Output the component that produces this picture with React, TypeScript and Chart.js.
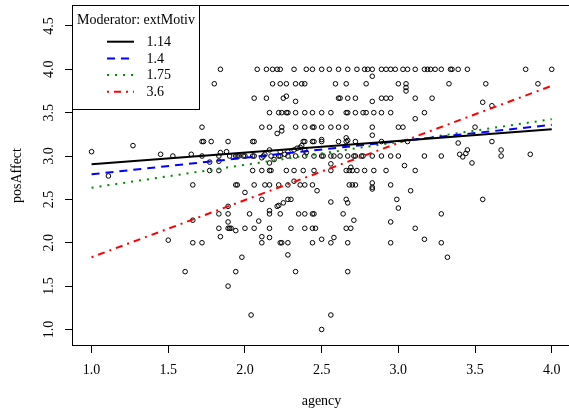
import React, { useEffect, useRef } from "react";
import { Chart, registerables } from "chart.js";

Chart.register(...registerables);

const FONT = '"Liberation Serif", "Times New Roman", serif';

// ---------- axis ticks ----------
const agencyTicks = [1.0, 1.5, 2.0, 2.5, 3.0, 3.5, 4.0];
const posAffectTicks = [1.0, 1.5, 2.0, 2.5, 3.0, 3.5, 4.0, 4.5];

// ---------- moderator lines (simple slopes) ----------
const moderatorLabels = ["1.14", "1.4", "1.75", "3.6"];
const moderatorColors = ["#000000", "#0000ff", "#008b00", "#ff0000"];
const moderatorDashes = [[], [8, 6], [2, 6], [2, 5, 7, 5]];
const fitAgency = [1.0, 4.0];
const fitStart = [2.905, 2.79, 2.635, 1.833];
const fitEnd = [3.309, 3.36, 3.425, 3.81];

// ---------- scatter: agency values for each posAffect level ----------
const row4_00 = [1.84, 2.08, 2.14, 2.18, 2.21, 2.23, 2.32, 2.40, 2.44, 2.50, 2.55, 2.61, 2.67, 2.73, 2.78, 2.80, 2.83, 2.89, 2.92, 2.95, 2.98, 3.03, 3.06, 3.11, 3.17, 3.19, 3.21, 3.24, 3.28, 3.34, 3.35, 3.39, 3.45, 3.83, 4.00];
const row3_83 = [1.80, 2.18, 2.23, 2.27, 2.33, 2.37, 2.39, 2.59, 2.66, 2.79, 3.00, 3.05, 3.33, 3.57, 3.91];
const row3_67 = [2.06, 2.14, 2.25, 2.61, 2.62, 2.67, 2.72, 2.89, 2.92, 2.95, 3.11, 3.22];
const row3_50 = [2.16, 2.22, 2.24, 2.27, 2.28, 2.33, 2.39, 2.44, 2.50, 2.56, 2.66, 2.67, 2.72, 2.77, 2.79, 2.84, 2.89, 2.95, 3.17];
const row3_33 = [1.72, 2.11, 2.16, 2.24, 2.33, 2.39, 2.44, 2.45, 2.50, 2.56, 2.61, 2.66, 2.83, 3.00, 3.03, 3.50];
const row3_17 = [1.72, 1.73, 1.78, 1.89, 2.05, 2.06, 2.38, 2.39, 2.44, 2.45, 2.50, 2.61, 2.66, 2.72, 2.89, 3.06, 3.61];
const row3_00 = [1.53, 1.72, 1.83, 1.90, 1.94, 1.95, 1.96, 1.99, 2.00, 2.05, 2.06, 2.12, 2.17, 2.22, 2.23, 2.28, 2.33, 2.39, 2.45, 2.50, 2.51, 2.56, 2.58, 2.62, 2.67, 2.71, 2.72, 2.76, 2.77, 2.83, 2.89, 2.95, 3.00, 3.17, 3.28, 3.67];
const row2_83 = [1.77, 1.83, 2.05, 2.11, 2.16, 2.17, 2.27, 2.32, 2.38, 2.45, 2.56, 2.66, 2.68, 2.70, 2.73, 2.78, 2.84, 2.92, 3.11];
const row2_67 = [1.66, 1.94, 1.95, 2.06, 2.13, 2.16, 2.22, 2.28, 2.36, 2.39, 2.44, 2.68, 2.70, 2.72, 2.95];
const row2_50 = [2.11, 2.28, 2.30, 2.66, 2.99, 3.55];
const row2_33 = [1.83, 1.89, 2.03, 2.16, 2.23, 2.35, 2.39, 2.44, 2.45, 2.64, 3.28];
const row2_17 = [1.83, 1.89, 1.90, 1.91, 2.00, 2.06, 2.16, 2.30, 2.39, 2.44, 2.46, 2.66, 2.69, 3.11];
const row2_00 = [1.66, 1.72, 2.11, 2.23, 2.24, 2.28, 2.44, 2.56, 2.67, 2.95, 3.28];
const row1_83 = [1.98, 3.32];
const row1_67 = [1.61, 1.94, 2.33, 2.67];
const row1_50 = [1.89];
const row1_17 = [2.04, 2.56];
const row1_00 = [2.50];

const rowLevels = [4.0, 3.833, 3.667, 3.5, 3.333, 3.167, 3.0, 2.833, 2.667, 2.5, 2.333, 2.167, 2.0, 1.833, 1.667, 1.5, 1.167, 1.0];
const rowAgency = [row4_00, row3_83, row3_67, row3_50, row3_33, row3_17, row3_00, row2_83, row2_67, row2_50, row2_33, row2_17, row2_00, row1_83, row1_67, row1_50, row1_17, row1_00];

// ---------- scatter: points between the usual levels ----------
const offGridAgency = [
  2.83, 3.05, 3.05, 2.27, 2.33, 2.83, 3.55, 3.61, 3.11, 2.21, 2.24, 2.83,
  2.50, 2.66, 2.67, 3.39, 2.32, 2.34, 2.36, 2.37,
  1.00, 1.27, 1.45, 1.65, 1.77, 1.83, 1.84, 1.88, 2.11, 2.13, 2.16, 2.19, 2.16, 2.23, 2.26, 2.28, 2.39, 2.40,
  3.40, 3.42, 3.44, 3.45, 3.67, 3.48, 3.86,
  2.56, 2.69, 3.04, 1.11,
  2.00, 2.32, 2.83, 2.83, 2.83, 3.08, 2.47,
  2.25, 2.21, 2.22, 1.89, 2.16, 2.56, 2.67, 3.00, 2.71, 2.95,
  1.66, 1.89, 2.09,
  1.94, 1.84, 2.11, 2.16, 2.50, 2.58, 3.17,
  1.50, 2.28,
];
const offGridPosAffect = [
  3.92, 3.79, 3.75, 3.69, 3.63, 3.63, 3.62, 3.58, 3.43, 3.26, 3.29, 3.24,
  3.19, 3.21, 3.18, 3.15, 3.07, 3.09, 3.10, 3.12,
  3.05, 3.12, 3.02, 3.02, 2.93, 2.94, 3.04, 3.05, 2.98, 3.02, 3.07, 2.96, 2.92, 3.05, 3.02, 3.05, 3.07, 3.04,
  3.02, 2.99, 3.03, 3.07, 3.07, 2.92, 3.02,
  2.91, 2.87, 2.89, 2.77,
  2.58, 2.71, 2.69, 2.64, 2.62, 2.60, 2.60,
  2.46, 2.42, 2.43, 2.42, 2.37, 2.47, 2.46, 2.40, 2.26, 2.24,
  2.26, 2.24, 2.25,
  2.14, 2.07, 2.07, 2.06, 2.04, 2.06, 2.04,
  2.03, 1.86,
];

const boxAndLegend = {
  id: "boxAndLegend",
  afterDraw(chart: any) {
    const ctx = chart.ctx;
    const ca = chart.chartArea;
    ctx.save();
    ctx.setLineDash([]);
    ctx.strokeStyle = "#000";
    ctx.lineWidth = 1;
    // plot box
    ctx.strokeRect(Math.round(ca.left) - 0.5, Math.round(ca.top) - 0.5, ca.right - ca.left + 1, ca.bottom - ca.top + 1);

    // legend box (top-left corner of the plot)
    const bx = Math.round(ca.left) - 0.5;
    const by = Math.round(ca.top) - 0.5;
    const bw = 127;
    const bh = 104;
    ctx.fillStyle = "#fff";
    ctx.fillRect(bx, by, bw, bh);
    ctx.strokeRect(bx, by, bw, bh);

    ctx.fillStyle = "#000";
    ctx.font = `14px ${FONT}`;
    ctx.textBaseline = "alphabetic";
    ctx.textAlign = "center";
    ctx.fillText("Moderator: extMotiv", bx + bw / 2, by + 18.5);

    const lineDs = chart.data.datasets.filter((d: any) => d.showLine);
    lineDs.forEach((d: any, i: number) => {
      const base = by + 40.5 + i * 16.7;
      const ly = base - 4.3;
      ctx.beginPath();
      ctx.strokeStyle = d.borderColor;
      ctx.lineWidth = d.borderWidth;
      ctx.setLineDash(d.borderDash || []);
      ctx.lineCap = "butt";
      ctx.moveTo(bx + 34.5, ly);
      ctx.lineTo(bx + 61.5, ly);
      ctx.stroke();
      ctx.setLineDash([]);
      ctx.fillStyle = "#000";
      ctx.textAlign = "left";
      ctx.fillText(d.label, bx + 74, base);
    });
    ctx.restore();
  },
};

export default function App() {
  const ref = useRef<HTMLCanvasElement | null>(null);

  useEffect(() => {
    const canvas = ref.current;
    if (!canvas) return;

    const points: { x: number; y: number }[] = [];
    rowLevels.forEach((lvl, i) => {
      rowAgency[i].forEach((a) => points.push({ x: a, y: lvl }));
    });
    offGridAgency.forEach((a, i) => points.push({ x: a, y: offGridPosAffect[i] }));

    const lineSets = moderatorLabels.map((lab, i) => ({
      label: lab,
      data: fitAgency.map((a, j) => ({ x: a, y: j === 0 ? fitStart[i] : fitEnd[i] })),
      showLine: true,
      borderColor: moderatorColors[i],
      backgroundColor: moderatorColors[i],
      borderWidth: 2,
      borderDash: moderatorDashes[i],
      borderCapStyle: "butt",
      pointRadius: 0,
      pointHoverRadius: 0,
      fill: false,
      order: 0,
    }));

    const tickFont = { family: FONT, size: 14 };

    const chart = new Chart(canvas, {
      type: "scatter",
      data: {
        datasets: [
          ...lineSets,
          {
            label: "posAffect",
            data: points,
            showLine: false,
            pointStyle: "circle",
            pointRadius: 2.3,
            pointHoverRadius: 2.3,
            borderColor: "#000",
            backgroundColor: "rgba(0,0,0,0)",
            borderWidth: 1,
            order: 1,
          } as any,
        ],
      },
      options: {
        responsive: false,
        animation: false,
        devicePixelRatio: 1,
        layout: { padding: { top: 6, right: 10, left: 0, bottom: 0 } },
        plugins: {
          legend: { display: false },
          tooltip: { enabled: false },
          title: { display: false },
        },
        scales: {
          x: {
            type: "linear",
            position: "bottom",
            min: 0.879,
            max: 4.119,
            afterFit: (s: any) => {
              s.height = 65;
              s.paddingLeft = 0;
              s.paddingRight = 0;
            },
            afterBuildTicks: (s: any) => {
              s.ticks = agencyTicks.map((v) => ({ value: v }));
            },
            border: { display: false },
            grid: {
              display: true,
              drawOnChartArea: false,
              drawTicks: true,
              tickLength: 8,
              color: "#000",
              lineWidth: 1,
            },
            ticks: {
              autoSkip: false,
              maxRotation: 0,
              minRotation: 0,
              padding: 9,
              color: "#000",
              font: tickFont,
              callback: (v: any) => Number(v).toFixed(1),
            },
            title: {
              display: true,
              text: "agency",
              color: "#000",
              font: tickFont,
              padding: { top: 0, bottom: 0 },
            },
          },
          y: {
            type: "linear",
            position: "left",
            min: 0.821,
            max: 4.73,
            afterFit: (s: any) => {
              s.width = 73;
              s.paddingTop = 0;
              s.paddingBottom = 0;
            },
            afterBuildTicks: (s: any) => {
              s.ticks = posAffectTicks.map((v) => ({ value: v }));
            },
            border: { display: false },
            grid: {
              display: true,
              drawOnChartArea: false,
              drawTicks: true,
              tickLength: 8,
              color: "#000",
              lineWidth: 1,
            },
            ticks: {
              autoSkip: false,
              minRotation: 90,
              maxRotation: 90,
              crossAlign: "center",
              padding: 7,
              color: "#000",
              font: tickFont,
              callback: (v: any) => Number(v).toFixed(1),
            },
            title: {
              display: true,
              text: "posAffect",
              color: "#000",
              font: tickFont,
              padding: { top: 8.6, bottom: 0 },
            },
          },
        },
      },
      plugins: [boxAndLegend],
    } as any);

    return () => chart.destroy();
  }, []);

  return (
    <div
      style={{
        position: "fixed",
        left: 0,
        top: 0,
        width: 569,
        height: 410,
        overflow: "hidden",
        background: "#fff",
      }}
    >
      <canvas ref={ref} width={580} height={410} style={{ width: 580, height: 410, display: "block" }} />
    </div>
  );
}
